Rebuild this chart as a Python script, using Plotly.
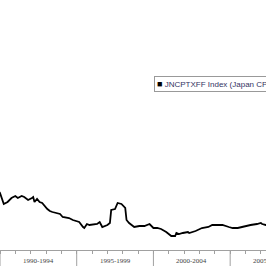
import plotly.graph_objects as go
import pandas as pd

# --- data (Japan CPI ex fresh food, YoY %) ---
dates = ["1989-11", "1990-01", "1990-04", "1990-07", "1990-10", "1991-01", "1991-03", "1991-06",
         "1991-08", "1991-11", "1992-02", "1992-03", "1992-04", "1992-06", "1992-08", "1992-10",
         "1993-02", "1993-04", "1993-06", "1993-09", "1993-12", "1994-02", "1994-05", "1994-07",
         "1994-10", "1995-01", "1995-03", "1995-06", "1995-07", "1995-09", "1995-11", "1996-05",
         "1996-07", "1996-09", "1997-01", "1997-03", "1997-04", "1997-07", "1997-09", "1997-12",
         "1998-03", "1998-04", "1998-06", "1998-10", "1999-02", "1999-06", "1999-10", "2000-01",
         "2000-04", "2000-07", "2000-11", "2001-03", "2001-06", "2001-07", "2001-09", "2001-12",
         "2002-04", "2002-05", "2002-10", "2003-03", "2003-08", "2003-11", "2004-07", "2004-12",
         "2005-03", "2005-07", "2006-01", "2006-05", "2006-10", "2007-01", "2007-02", "2007-05",
         "2007-08"]
values = [3.6, 3.3, 2.2, 2.4, 2.8, 3.0, 2.8, 3.0,
          2.9, 2.6, 2.8, 2.9, 2.4, 2.7, 2.4, 2.3,
          1.7, 1.5, 1.4, 1.3, 1.2, 0.9, 0.8, 0.8,
          0.6, 0.5, 0.4, -0.1, -0.2, 0.2, 0.1, 0.2,
          0.4, -0.1, 0.1, 0.3, 1.6, 1.7, 2.3, 2.2,
          1.8, 0.6, 0.3, -0.1, 0.0, 0.0, 0.2, -0.2,
          -0.2, -0.3, -0.6, -1.0, -1.0, -0.7, -0.8, -0.7,
          -0.6, -0.7, -0.5, -0.2, -0.1, 0.1, 0.1, -0.1,
          -0.2, -0.2, 0.0, 0.1, 0.2, 0.3, 0.2, 0.1,
          0.1]
period_starts = [1990, 1995, 2000, 2005]
period_labels = ["1990-1994", "1995-1999", "2000-2004", "2005-2009"]
minor_years = list(range(1990, 2008))
series_name = "JNCPTXFF Index (Japan CPI Nationwide Ex Fresh Food YoY)"

x_range = ["1990-01-01", "2007-05-04"]
y_range = [-2.4, 22.6]

r0 = pd.Timestamp(x_range[0])
r1 = pd.Timestamp(x_range[1])


def frac(ts):
    return (pd.Timestamp(ts) - r0) / (r1 - r0)


fig = go.Figure()
fig.add_trace(go.Scatter(
    x=pd.to_datetime(dates), y=values, mode="lines",
    line=dict(color="black", width=1.8), name=series_name, showlegend=False,
))

# major period separators
for y0 in period_starts:
    fig.add_shape(type="line", xref="x", yref="paper",
                  x0=f"{y0}-01-01", x1=f"{y0}-01-01", y0=0, y1=-0.07,
                  line=dict(color="#a0a0a0", width=1))

# period labels
for y0, lab in zip(period_starts, period_labels):
    mid = pd.Timestamp(f"{y0}-01-01") + (pd.Timestamp(f"{y0 + 5}-01-01") - pd.Timestamp(f"{y0}-01-01")) / 2
    fig.add_annotation(xref="paper", yref="paper", x=frac(mid), y=-0.044,
                       text=lab, showarrow=False, xanchor="center", yanchor="middle",
                       font=dict(family="Liberation Serif", size=7, color="#444444"))

# legend box
fig.add_annotation(xref="paper", yref="paper", x=154 / 266, y=1 - 84 / 250,
                   xanchor="left", yanchor="middle", showarrow=False, align="left",
                   text="<span style='color:black;font-size:9px'>■</span> " + series_name,
                   font=dict(family="Liberation Sans", size=8, color="#33335f"),
                   bgcolor="white", bordercolor="#999999", borderwidth=1, borderpad=2)

fig.update_xaxes(type="date", range=x_range, showgrid=False, zeroline=False,
                 showline=True, linecolor="#a0a0a0", linewidth=1,
                 tickmode="array", tickvals=[f"{y}-01-01" for y in minor_years],
                 ticks="outside", ticklen=3, tickcolor="#a0a0a0", showticklabels=False)
fig.update_yaxes(range=y_range, visible=False, showgrid=False, zeroline=False)

fig.update_layout(width=266, height=266, margin=dict(l=0, r=0, t=0, b=16),
                  plot_bgcolor="white", paper_bgcolor="white", showlegend=False)

fig.write_html("out.html")
